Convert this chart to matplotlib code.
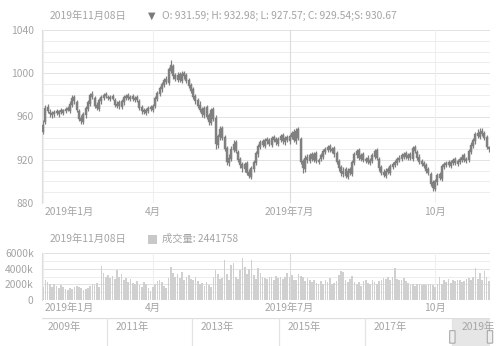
import matplotlib
matplotlib.use("Agg")
import matplotlib.pyplot as plt
from matplotlib.patches import FancyBboxPatch, Rectangle
import numpy as np

plt.rcParams['font.family'] = ['Noto Sans CJK SC', 'DejaVu Sans']

# ---------------- data ----------------
month_labels = ["2019年1月", "4月", "2019年7月", "10月"]
month_idx = [0, 49, 110, 175]

opens = [946, 955, 969, 964, 961, 962, 965, 962, 966, 963,
         965, 968, 965, 971, 978, 973, 965, 959, 955, 961,
         967, 972, 981, 977, 971, 967, 974, 977, 981, 978,
         976, 979, 975, 970, 973, 969, 973, 977, 980, 976,
         979, 975, 978, 974, 969, 966, 963, 965, 969, 966,
         970, 976, 981, 985, 989, 995, 991, 1002, 1007, 998,
         994, 999, 993, 1000, 998, 994, 989, 985, 979, 975,
         971, 967, 961, 969, 961, 954, 967, 959, 934, 941,
         949, 941, 931, 917, 921, 929, 936, 927, 921, 916,
         911, 917, 909, 904, 911, 917, 925, 932, 937, 933,
         939, 938, 934, 941, 939, 935, 938, 943, 936, 941,
         937, 941, 946, 937, 948, 939, 919, 911, 923, 919,
         925, 920, 926, 918, 921, 923, 927, 929, 933, 928,
         931, 926, 919, 913, 907, 911, 904, 911, 907, 917,
         924, 929, 921, 925, 919, 922, 917, 919, 923, 929,
         921, 913, 909, 905, 911, 908, 913, 915, 917, 920,
         921, 923, 926, 922, 925, 921, 932, 927, 923, 919,
         917, 915, 911, 907, 899, 893, 899, 907, 902, 913,
         915, 918, 914, 917, 921, 916, 918, 920, 924, 919,
         920, 927, 933, 937, 945, 941, 947, 945, 941, 931.59]

closes = [952, 968, 965, 962, 963, 964, 963, 965, 964, 966,
          967, 966, 972, 977, 974, 966, 958, 956, 962, 968,
          973, 980, 978, 970, 968, 975, 978, 980, 979, 977,
          978, 976, 971, 972, 970, 974, 978, 979, 977, 978,
          976, 977, 975, 968, 965, 964, 966, 968, 967, 970,
          977, 982, 986, 990, 994, 992, 1004, 1008, 997, 995,
          998, 994, 999, 997, 993, 988, 984, 978, 974, 970,
          966, 962, 968, 960, 955, 966, 958, 935, 942, 948,
          940, 930, 918, 922, 930, 935, 928, 920, 915, 912,
          916, 908, 905, 912, 918, 926, 933, 936, 934, 938,
          937, 935, 940, 938, 936, 939, 942, 937, 940, 938,
          942, 945, 938, 947, 940, 918, 912, 922, 920, 924,
          921, 925, 919, 920, 924, 928, 930, 932, 929, 930,
          925, 918, 912, 908, 910, 905, 910, 908, 918, 925,
          928, 922, 924, 920, 921, 918, 920, 924, 928, 922,
          912, 908, 906, 910, 909, 914, 916, 918, 921, 922,
          924, 925, 923, 924, 922, 931, 928, 922, 918, 916,
          914, 910, 908, 898, 894, 900, 906, 903, 914, 916,
          917, 915, 918, 920, 917, 919, 921, 923, 920, 921,
          928, 934, 938, 944, 942, 946, 944, 940, 932, 929.54]

highs = [957, 971, 972, 967, 965, 966, 967, 966, 968, 967,
         969, 970, 974, 980, 980, 975, 967, 961, 964, 970,
         975, 982, 984, 979, 973, 977, 980, 982, 983, 980,
         980, 981, 977, 974, 975, 976, 980, 981, 982, 980,
         981, 979, 980, 976, 971, 968, 968, 970, 971, 972,
         979, 984, 988, 992, 996, 997, 1006, 1012, 1009, 1000,
         1001, 1001, 1002, 1002, 1000, 996, 991, 987, 981, 977,
         974, 969, 970, 971, 963, 968, 969, 961, 944, 951,
         951, 943, 933, 925, 933, 938, 938, 929, 923, 918,
         918, 919, 911, 914, 920, 928, 935, 938, 939, 940,
         941, 940, 942, 943, 941, 941, 944, 945, 942, 943,
         944, 947, 948, 949, 950, 941, 921, 924, 925, 926,
         927, 927, 928, 922, 926, 930, 932, 934, 935, 932,
         933, 928, 921, 915, 913, 913, 912, 913, 920, 927,
         930, 931, 926, 927, 923, 924, 922, 926, 930, 931,
         923, 915, 911, 912, 913, 916, 918, 920, 923, 924,
         926, 927, 928, 926, 927, 933, 934, 929, 925, 921,
         919, 917, 913, 909, 901, 902, 908, 909, 916, 918,
         919, 920, 920, 922, 923, 921, 923, 925, 926, 923,
         930, 936, 940, 946, 948, 949, 949, 947, 943, 932.98]

lows = [944, 953, 963, 960, 959, 960, 961, 960, 962, 961,
        963, 965, 963, 969, 972, 964, 956, 953, 953, 959,
        965, 970, 976, 968, 966, 965, 972, 975, 977, 975,
        974, 975, 969, 968, 967, 967, 971, 975, 975, 974,
        974, 973, 973, 966, 962, 962, 961, 963, 965, 964,
        968, 974, 979, 983, 987, 990, 989, 1000, 995, 993,
        992, 992, 991, 995, 991, 986, 982, 976, 972, 968,
        964, 960, 959, 958, 952, 952, 956, 930, 931, 938,
        938, 928, 915, 914, 919, 927, 926, 918, 912, 909,
        909, 906, 903, 902, 909, 915, 923, 930, 932, 931,
        935, 933, 932, 936, 934, 933, 936, 935, 934, 936,
        935, 939, 936, 935, 938, 916, 908, 909, 917, 917,
        919, 918, 917, 916, 919, 921, 925, 927, 927, 926,
        923, 916, 910, 905, 904, 903, 902, 906, 905, 915,
        922, 920, 919, 918, 917, 916, 915, 917, 921, 920,
        910, 906, 904, 903, 907, 906, 911, 913, 915, 918,
        919, 921, 921, 920, 920, 919, 926, 920, 916, 914,
        912, 908, 906, 896, 891, 891, 897, 901, 900, 911,
        913, 913, 912, 915, 915, 914, 916, 918, 918, 917,
        918, 925, 931, 935, 940, 939, 942, 938, 930, 927.57]

volumes_k = [1700, 2500, 2300, 2100, 1600, 2000, 1800, 1500, 1900, 1700,
             1400, 1300, 1500, 1400, 1600, 1800, 1700, 1500, 1300, 1400,
             1500, 1800, 2100, 1900, 2200, 1700, 4300, 3500, 3000, 3200,
             2800, 3100, 2700, 3800, 2900, 3300, 2500, 2800, 2300, 2700,
             2200, 2000, 2400, 1900, 1700, 2300, 2000, 1500, 1200, 1600,
             2100, 2400, 2600, 2300, 1800, 1500, 2800, 4200, 3500, 2900,
             3300, 2800, 3600, 2600, 3000, 3200, 2700, 2500, 2900, 2400,
             2000, 2200, 1800, 2300, 1900, 1600, 3000, 3800, 3300, 2700,
             2800, 5100, 3300, 2600, 4500, 4700, 3000, 2700, 3800, 5400,
             4200, 3300, 4000, 5100, 3200, 2700, 4100, 3500, 3000, 2800,
             2700, 3000, 2900, 2600, 3100, 2800, 3000, 2700, 2900, 3500,
             2900, 3200, 2600, 2500, 3300, 3100, 3000, 2400, 2800, 2500,
             2300, 2600, 2200, 2000, 2400, 2100, 2500, 2300, 2800, 2000,
             2200, 2400, 3200, 3700, 3600, 2500, 2300, 2700, 3100, 2300,
             2000, 2300, 1800, 2400, 2600, 2200, 2000, 2500, 2300, 2100,
             2400, 2600, 2800, 2700, 3000, 2600, 2900, 4100, 2700, 2500,
             2600, 2800, 2400, 2200, 1900, 2100, 1800, 2000, 2000, 1900,
             2000, 1900, 2000, 2100, 1900, 1600, 2000, 2900, 2100, 2600,
             2300, 2700, 2200, 2500, 2400, 2600, 2500, 2300, 2400, 2700,
             2800, 2500, 3000, 4100, 2700, 3500, 2600, 3700, 2900, 2441.758]

price_ticks = [880, 920, 960, 1000, 1040]
vol_ticks_k = [0, 2000, 4000, 6000]
vol_tick_labels = ["0", "2000k", "4000k", "6000k"]
year_labels = ["2009年", "2011年", "2013年", "2015年", "2017年", "2019年"]
year_pos = [0.0, 0.152, 0.342, 0.536, 0.728, 0.924]   # fraction of slider width

date_text = "2019年11月08日"
ohlc_text = "O: 931.59; H: 932.98; L: 927.57; C: 929.54;S: 930.67"
vol_text = "成交量: 2441758"

# ---------------- layout ----------------
W, H = 500, 346
fig = plt.figure(figsize=(W / 100, H / 100), dpi=100)
fig.patch.set_facecolor("white")

def fx(px):
    return px / W

def fy(py):
    return 1 - py / H

L, R = 42, 490
TXT = "#a4a4a4"
GRID = "#ededed"
GRID_MAJ = "#e2e2e2"
CANDLE = "#808080"
FS = 7.4

n = len(closes)
x = np.arange(n)

# main candlestick axes
ax = fig.add_axes([fx(L), fy(203), fx(R - L), fy(30) - fy(203)])
ax.set_xlim(-0.5, n - 0.5)
ax.set_ylim(880, 1040)
for v in np.arange(880, 1041, 10):
    ax.axhline(v, color=GRID_MAJ if v % 40 == 0 else GRID, lw=0.7, zorder=0)
for i, mi in enumerate(month_idx):
    ax.axvline(mi, color="#dcdcdc" if i == 2 else "#efefef", lw=0.8, zorder=0)
o = np.array(opens, dtype=float)
c = np.array(closes, dtype=float)
ax.vlines(x, lows, highs, color=CANDLE, lw=0.9, zorder=2)
body_bottom = np.minimum(o, c)
body_h = np.maximum(np.abs(c - o), 0.8)
ax.bar(x, body_h, bottom=body_bottom, width=0.9, color=CANDLE,
       edgecolor=CANDLE, lw=0.3, zorder=3)
ax.set_yticks(price_ticks)
ax.set_yticklabels([str(t) for t in price_ticks])
ax.set_xticks([])
ax.tick_params(axis="y", length=0, labelsize=FS, colors=TXT, pad=6)
for s in ["top", "right", "bottom"]:
    ax.spines[s].set_visible(False)
ax.spines["left"].set_color("#dddddd")
ax.spines["left"].set_linewidth(0.8)
ax.set_facecolor("none")

# month labels under an axes
def month_text(axis, ypx):
    for lab, mi in zip(month_labels, month_idx):
        xpix = axis.transData.transform((mi, 0))[0]
        if mi == 0:
            fig.text(fx(L + 3), fy(ypx), lab, ha="left", va="center", fontsize=FS, color=TXT)
        else:
            fig.text(xpix / W, fy(ypx), lab, ha="center", va="center", fontsize=FS, color=TXT)

month_text(ax, 212)

# header
fig.text(fx(50), fy(16), date_text, ha="left", va="center", fontsize=FS, color=TXT)
fig.text(fx(148), fy(16), "▼", ha="left", va="center", fontsize=7, color="#7a7a7a",
         family=["DejaVu Sans"])
fig.text(fx(162), fy(16), ohlc_text, ha="left", va="center", fontsize=FS, color=TXT)

# volume axes
axv = fig.add_axes([fx(L), fy(300), fx(R - L), fy(253) - fy(300)])
axv.set_xlim(-0.5, n - 0.5)
axv.set_ylim(0, 6000)
for v in np.arange(0, 6001, 1000):
    axv.axhline(v, color=GRID_MAJ if v % 2000 == 0 else GRID, lw=0.7, zorder=0)
for i, mi in enumerate(month_idx):
    axv.axvline(mi, color="#dcdcdc" if i == 2 else "#efefef", lw=0.8, zorder=0)
axv.bar(x, volumes_k, width=0.75, color="#d0d0d0", edgecolor="none", zorder=2)
axv.set_yticks(vol_ticks_k)
axv.set_yticklabels(vol_tick_labels)
axv.set_xticks([])
axv.tick_params(axis="y", length=0, labelsize=FS, colors=TXT, pad=6)
for s in ["top", "right", "bottom"]:
    axv.spines[s].set_visible(False)
axv.spines["left"].set_color("#dddddd")
axv.spines["left"].set_linewidth(0.8)
axv.set_facecolor("none")

month_text(axv, 308)

fig.text(fx(50), fy(239), date_text, ha="left", va="center", fontsize=FS, color=TXT)
fig.patches.append(Rectangle((fx(148), fy(244)), fx(9), fy(235) - fy(244),
                             transform=fig.transFigure, facecolor="#c8c8c8",
                             edgecolor="none"))
fig.text(fx(162), fy(239), vol_text, ha="left", va="center", fontsize=FS, color=TXT)

# slider / data zoom
axs = fig.add_axes([fx(L), 0, fx(R - L), fy(318)])
axs.set_xlim(0, 1)
axs.set_ylim(0, 1)
axs.axis("off")
axs.axhline(1, color="#dddddd", lw=0.9)
for p in year_pos[1:]:
    axs.axvline(p - 0.008, color="#e4e4e4", lw=0.9)
axs.add_patch(Rectangle((0.924 - 0.008, 0), 1 - 0.916, 1, facecolor="#e6e6e6",
                        edgecolor="none", zorder=0))
for lab, p in zip(year_labels, year_pos):
    axs.text(p + 0.012, 0.67, lab, ha="left", va="center", fontsize=FS, color=TXT)
for hx in [0.924 - 0.008, 1.0]:
    axs.add_patch(FancyBboxPatch((hx - 0.006, 0.1), 0.012, 0.45,
                                 boxstyle="round,pad=0,rounding_size=0.006",
                                 facecolor="#eeeeee", edgecolor="#aaaaaa", lw=0.8,
                                 zorder=3, clip_on=False))

fig.savefig("out.png", dpi=100, facecolor="white")
